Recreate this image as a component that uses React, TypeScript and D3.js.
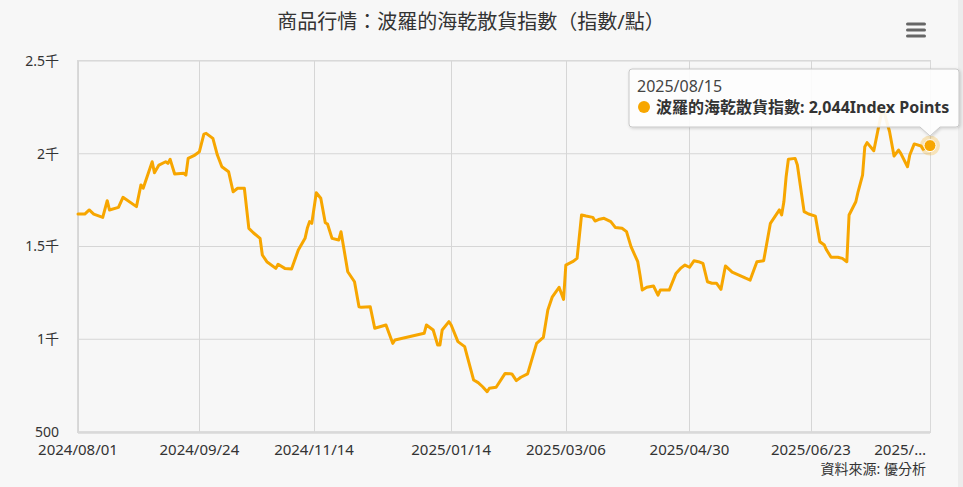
import React from "react";
import { scaleTime, scaleLinear, line, utcParse, format, curveLinear } from "d3";

// 波羅的海乾散貨指數 (BDI), values
const dates: string[] = [
  "2024/08/01", "2024/08/04", "2024/08/06", "2024/08/08", "2024/08/12", "2024/08/14", "2024/08/15",
  "2024/08/19", "2024/08/21", "2024/08/27", "2024/08/29", "2024/08/30", "2024/09/03", "2024/09/04",
  "2024/09/06", "2024/09/09", "2024/09/10", "2024/09/11", "2024/09/13", "2024/09/17", "2024/09/18",
  "2024/09/19", "2024/09/22", "2024/09/24", "2024/09/26", "2024/09/27", "2024/09/30", "2024/10/02",
  "2024/10/04", "2024/10/07", "2024/10/09", "2024/10/11", "2024/10/14", "2024/10/16", "2024/10/18",
  "2024/10/21", "2024/10/22", "2024/10/24", "2024/10/28", "2024/10/29", "2024/11/01", "2024/11/04",
  "2024/11/07", "2024/11/10", "2024/11/11", "2024/11/12", "2024/11/13", "2024/11/15", "2024/11/17",
  "2024/11/19", "2024/11/20", "2024/11/22", "2024/11/25", "2024/11/26", "2024/11/27", "2024/11/29",
  "2024/12/02", "2024/12/04", "2024/12/05", "2024/12/09", "2024/12/11", "2024/12/16", "2024/12/19",
  "2024/12/20", "2025/01/02", "2025/01/03", "2025/01/06", "2025/01/08", "2025/01/09", "2025/01/10",
  "2025/01/13", "2025/01/14", "2025/01/17", "2025/01/20", "2025/01/21", "2025/01/24", "2025/01/26",
  "2025/01/28", "2025/01/30", "2025/01/31", "2025/02/03", "2025/02/07", "2025/02/10", "2025/02/12",
  "2025/02/14", "2025/02/17", "2025/02/21", "2025/02/24", "2025/02/26", "2025/02/28", "2025/03/03",
  "2025/03/05", "2025/03/06", "2025/03/09", "2025/03/11", "2025/03/13", "2025/03/15", "2025/03/18",
  "2025/03/19", "2025/03/21", "2025/03/23", "2025/03/26", "2025/03/28", "2025/03/31", "2025/04/02",
  "2025/04/04", "2025/04/07", "2025/04/08", "2025/04/09", "2025/04/11", "2025/04/14", "2025/04/16",
  "2025/04/17", "2025/04/21", "2025/04/24", "2025/04/26", "2025/04/28", "2025/04/30", "2025/05/02",
  "2025/05/04", "2025/05/06", "2025/05/08", "2025/05/10", "2025/05/12", "2025/05/14", "2025/05/16",
  "2025/05/19", "2025/05/22", "2025/05/25", "2025/05/27", "2025/05/30", "2025/06/02", "2025/06/05",
  "2025/06/07", "2025/06/09", "2025/06/10", "2025/06/11", "2025/06/12", "2025/06/13", "2025/06/16",
  "2025/06/17", "2025/06/20", "2025/06/22", "2025/06/25", "2025/06/27", "2025/06/29", "2025/06/30",
  "2025/07/02", "2025/07/05", "2025/07/07", "2025/07/09", "2025/07/10", "2025/07/13", "2025/07/14",
  "2025/07/16", "2025/07/17", "2025/07/18", "2025/07/21", "2025/07/23", "2025/07/25", "2025/07/28",
  "2025/07/30", "2025/08/01", "2025/08/02", "2025/08/05", "2025/08/06", "2025/08/08", "2025/08/11",
  "2025/08/12", "2025/08/15",
];

const bdi: number[] = [
  1675, 1675, 1697, 1675, 1657, 1747, 1697,
  1711, 1765, 1715, 1832, 1814, 1957, 1898,
  1939, 1957, 1948, 1970, 1891, 1895, 1885,
  1975, 1993, 2011, 2106, 2110, 2083, 1993,
  1930, 1903, 1795, 1814, 1814, 1598, 1574,
  1544, 1454, 1418, 1382, 1404, 1382, 1379,
  1481, 1544, 1598, 1634, 1625, 1790, 1760,
  1628, 1621, 1544, 1535, 1580, 1508, 1364,
  1310, 1175, 1172, 1175, 1059, 1077, 978,
  996, 1032, 1077, 1050, 969, 969, 1050,
  1095, 1077, 987, 960, 915, 780, 766,
  744, 717, 736, 741, 816, 813, 777,
  795, 813, 978, 1010, 1158, 1229, 1280,
  1215, 1400, 1418, 1436, 1670, 1664, 1657,
  1637, 1647, 1652, 1634, 1603, 1598, 1580,
  1499, 1418, 1346, 1265, 1280, 1287, 1238,
  1265, 1265, 1355, 1382, 1400, 1388, 1423,
  1418, 1409, 1310, 1302, 1302, 1269, 1395,
  1362, 1346, 1329, 1319, 1418, 1423, 1625,
  1661, 1697, 1670, 1741, 1876, 1970, 1975,
  1939, 1688, 1675, 1664, 1526, 1508, 1481,
  1442, 1442, 1436, 1418, 1670, 1741, 1795,
  1885, 2038, 2060, 2016, 2137, 2250, 2120,
  1988, 2020, 2002, 1930, 1993, 2053, 2042,
  2024, 2044,
];

const xTickLabels: string[] = [
  "2024/08/01", "2024/09/24", "2024/11/14", "2025/01/14",
  "2025/03/06", "2025/04/30", "2025/06/23", "2025/08/15",
];
const yTicks: number[] = [500, 1000, 1500, 2000, 2500];

const title = "商品行情：波羅的海乾散貨指數（指數/點）";
const seriesName = "波羅的海乾散貨指數";
const unit = "Index Points";
const credit = "資料來源: 優分析";

const W = 963;
const H = 487;
const margin = { top: 61, right: 33, bottom: 55, left: 78 };
const FONT = "'Noto Sans', 'Noto Sans CJK TC', sans-serif";
const ORANGE = "#f7a600";

const parse = utcParse("%Y/%m/%d");

export default function App() {
  const data = dates.map((d, i) => ({ date: parse(d) as Date, value: bdi[i] }));
  const x = scaleTime()
    .domain([parse(dates[0]) as Date, parse(dates[dates.length - 1]) as Date])
    .range([margin.left, W - margin.right]);
  const y = scaleLinear().domain([500, 2500]).range([H - margin.bottom, margin.top]);

  const path = line<{ date: Date; value: number }>()
    .x((d) => x(d.date))
    .y((d) => y(d.value))
    .curve(curveLinear);

  const last = data[data.length - 1];
  const px = x(last.date);
  const py = y(last.value);
  const yLabel = (v: number) => (v >= 1000 ? `${v / 1000}千` : `${v}`);

  const tipLeft = 629;
  const tipRight = 959;
  const tipTop = 69;
  const tipBottom = 127;

  return (
    <div style={{ position: "absolute", left: 0, top: 0 }}>
      <svg width={W} height={H} style={{ display: "block", fontFamily: FONT }}>
        <defs>
          <filter id="shadow" x="-10%" y="-20%" width="130%" height="160%">
            <feDropShadow dx="1" dy="1" stdDeviation="1.5" floodColor="#000" floodOpacity="0.18" />
          </filter>
        </defs>
        <rect width={W} height={H} fill="#f7f7f7" />
        <rect x={958} y={0} width={5} height={H} fill="#ececec" />

        <text x={471} y={29} textAnchor="middle" fontSize={20} fill="#333">
          {title}
        </text>

        {/* menu button */}
        {[24, 30, 36].map((yy) => (
          <rect key={yy} x={906} y={yy - 1.5} width={20} height={3} rx={1.5} fill="#666" />
        ))}

        {/* grid */}
        {yTicks.map((t) => (
          <line key={t} x1={margin.left} x2={W - margin.right} y1={y(t)} y2={y(t)} stroke="#d6d6d6" strokeWidth={1} />
        ))}
        {xTickLabels.map((t) => {
          const xx = Math.round(x(parse(t) as Date)) + 0.5;
          return <line key={t} x1={xx} x2={xx} y1={margin.top} y2={H - margin.bottom} stroke="#d6d6d6" strokeWidth={1} />;
        })}
        <rect
          x={margin.left - 0.5}
          y={margin.top - 0.5}
          width={W - margin.left - margin.right + 1}
          height={H - margin.top - margin.bottom + 1}
          fill="none"
          stroke="#d9d9d9"
        />
        <line x1={margin.left} x2={W - margin.right} y1={y(500) + 0.5} y2={y(500) + 0.5} stroke="#d9d9d9" strokeWidth={2.5} />

        {/* axes labels */}
        {yTicks.map((t) => (
          <text key={t} x={59} y={y(t)} dy="0.35em" textAnchor="end" fontSize={14} fill="#333">
            {yLabel(t)}
          </text>
        ))}
        {xTickLabels.map((t, i) => {
          const isLast = i === xTickLabels.length - 1;
          return (
            <text
              key={t}
              x={isLast ? 926 : x(parse(t) as Date)}
              y={455}
              textAnchor={isLast ? "end" : "middle"}
              fontSize={15}
              fill="#333"
            >
              {isLast ? "2025/…" : t}
            </text>
          );
        })}

        {/* series */}
        <path d={path(data) || ""} fill="none" stroke={ORANGE} strokeWidth={3} strokeLinejoin="round" strokeLinecap="round" />

        {/* hover marker */}
        <circle cx={px} cy={py} r={10} fill={ORANGE} opacity={0.25} />
        <circle cx={px} cy={py} r={6} fill={ORANGE} stroke="#fff" strokeWidth={1} />

        {/* tooltip */}
        <g filter="url(#shadow)">
          <path
            d={`M${tipLeft + 3},${tipTop} H${tipRight - 3} Q${tipRight},${tipTop} ${tipRight},${tipTop + 3} V${tipBottom - 3} Q${tipRight},${tipBottom} ${tipRight - 3},${tipBottom} H${px + 10} L${px},${tipBottom + 9} L${px - 10},${tipBottom} H${tipLeft + 3} Q${tipLeft},${tipBottom} ${tipLeft},${tipBottom - 3} V${tipTop + 3} Q${tipLeft},${tipTop} ${tipLeft + 3},${tipTop} Z`}
            fill="rgba(255,255,255,0.9)"
            stroke="#c8c8c8"
            strokeWidth={1}
          />
        </g>
        <text x={637} y={92} fontSize={16} fill="#444">
          {dates[dates.length - 1]}
        </text>
        <circle cx={644} cy={107} r={6} fill={ORANGE} />
        <text x={656} y={113} fontSize={16} fontWeight="bold" fill="#333">
          {`${seriesName}: ${format(",")(last.value)}${unit}`}
        </text>

        <text x={926} y={474} textAnchor="end" fontSize={14} fill="#333">
          {credit}
        </text>
      </svg>
    </div>
  );
}
